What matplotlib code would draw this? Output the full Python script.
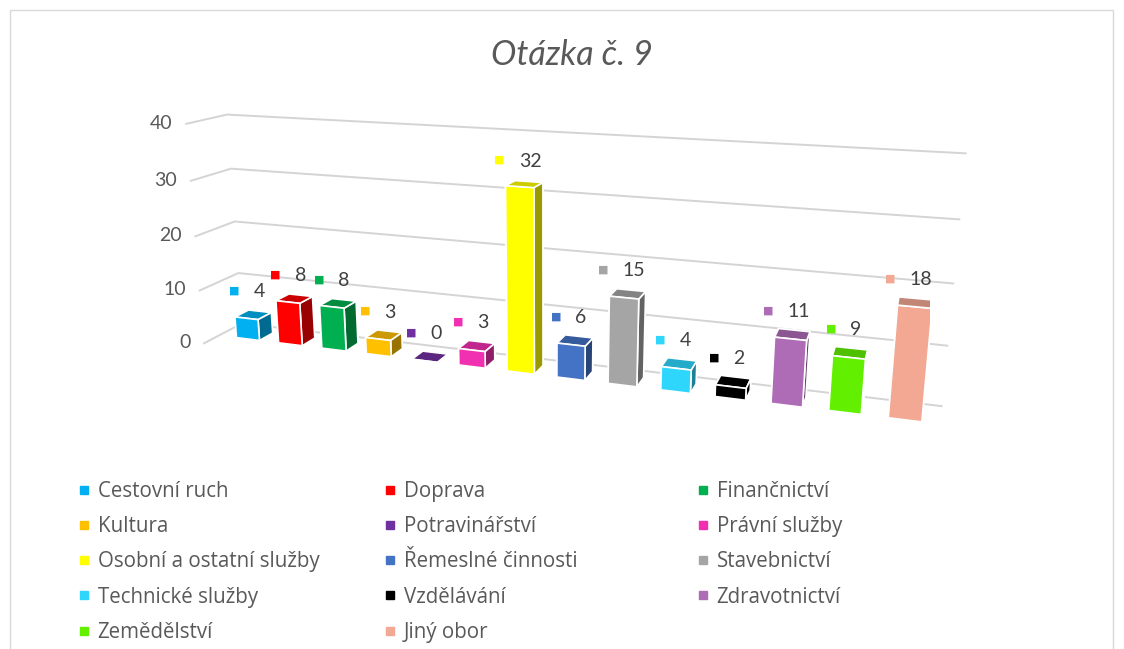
import numpy as np
import matplotlib
matplotlib.use('Agg')
import matplotlib.pyplot as plt
from matplotlib.colors import to_rgb
from matplotlib.lines import Line2D
from matplotlib.patches import Rectangle
from matplotlib.transforms import offset_copy

plt.rcParams['font.family'] = ['Lato', 'DejaVu Sans']
plt.rcParams['grid.color'] = '#d4d4d4'
plt.rcParams['grid.linewidth'] = 1.4

obory = ['Cestovní ruch', 'Doprava', 'Finančnictví', 'Kultura', 'Potravinářství',
         'Právní služby', 'Osobní a ostatní služby', 'Řemeslné činnosti',
         'Stavebnictví', 'Technické služby', 'Vzdělávání', 'Zdravotnictví',
         'Zemědělství', 'Jiný obor']
pocty = [4, 8, 8, 3, 0, 3, 32, 6, 15, 4, 2, 11, 9, 18]
barvy = ['#00B0F0', '#FF0000', '#00B050', '#FFC000', '#7030A0', '#F030B0',
         '#FFFF00', '#4472C4', '#A5A5A5', '#2ED6FC', '#000000', '#AE6CB6',
         '#62F000', '#F2A893']
osa_z = [0, 10, 20, 30, 40]
seda = '#595959'

W, H = 1124, 649
fig = plt.figure(figsize=(W / 100, H / 100), dpi=100)

# ramecek grafu
fig.patches.append(Rectangle((10 / W, -0.05), 1103 / W, 1 - 10 / H + 0.05,
                             transform=fig.transFigure, fill=False,
                             edgecolor='#d9d9d9', linewidth=1))

S = 790
cx, cy = 535, 269
ax = fig.add_axes([(cx - S / 2) / W, 1 - (cy + S / 2) / H, S / W, S / H],
                  projection='3d')
ax.set_proj_type('persp', focal_length=0.27)
ax.view_init(elev=15, azim=-71)

n = len(pocty)
x = np.arange(n)
sirka, hloubka, hl_podlahy = 0.55, 0.5, 1.4
y0 = 0.55
faces = []
for c in barvy:
    r = np.array(to_rgb(c))
    top, side = r * 0.8, r * 0.6
    # poradi sten: spodek, vrch, predek, zadek, levo, pravo
    faces += [tuple(side), tuple(top), tuple(r), tuple(r), tuple(r), tuple(side)]

ax.bar3d(x - sirka / 2, np.full(n, y0), np.zeros(n),
         sirka, hloubka, pocty, color=faces, shade=False,
         edgecolor='white', linewidth=1.2)

x_min = -0.7
ax.set_xlim(x_min, n - 0.4)
ax.set_ylim(0, hl_podlahy)
ax.set_zlim(0, 40)
ax.set_box_aspect((n + 0.3, hl_podlahy, 4.5))

ax.set_xticks([])
ax.set_yticks([])
ax.set_zticks(osa_z)
ax.set_zticklabels([])
for osa in (ax.xaxis, ax.yaxis, ax.zaxis):
    osa.set_pane_color((1, 1, 1, 0))
    osa.pane.set_edgecolor((1, 1, 1, 0))
    osa.line.set_color((1, 1, 1, 0))
ax.zaxis._axinfo['tick']['inward_factor'] = 0
ax.zaxis._axinfo['tick']['outward_factor'] = 0

# popisky osy z vlevo u predni hrany
for z in osa_z:
    ax.text(x_min - 0.3, 0, z, str(z), color=seda, fontsize=14,
            ha='right', va='center')

# popisky hodnot: nad stredem vrchni steny, posun v pixelech
for xi, v, c in zip(x, pocty, barvy):
    s = str(v)
    t_num = offset_copy(ax.transData, fig=fig, x=6, y=23, units='dots')
    t_box = offset_copy(ax.transData, fig=fig, x=-13 - 5.8 * len(s), y=24,
                        units='dots')
    ax.text(xi, y0 + hloubka / 2, v, '■', color=c, fontsize=8,
            family='DejaVu Sans', ha='center', va='center', transform=t_box)
    ax.text(xi, y0 + hloubka / 2, v, s, color='#404040', fontsize=14,
            ha='center', va='center', transform=t_num)

fig.text(0.509, 1 - 55 / H, 'Otázka č. 9', style='italic', fontsize=24.5,
         color=seda, ha='center', va='center')

# legenda po radcich, tri sloupce
sloupce_x = [78, 384, 697]
for k, sx in enumerate(sloupce_x):
    idx = list(range(k, n, 3))
    handles = [Line2D([], [], marker='s', linestyle='none', markersize=6,
                      color=barvy[i]) for i in idx]
    fig.legend(handles, [obory[i] for i in idx], loc='upper left',
               bbox_to_anchor=(sx / W, 1 - 481 / H), frameon=False,
               prop={'family': ['Open Sans', 'DejaVu Sans'], 'size': 14.8},
               labelcolor=seda, handlelength=0.6,
               handletextpad=0.35, labelspacing=0.69, borderpad=0,
               borderaxespad=0)

fig.savefig('out.png', dpi=100)
